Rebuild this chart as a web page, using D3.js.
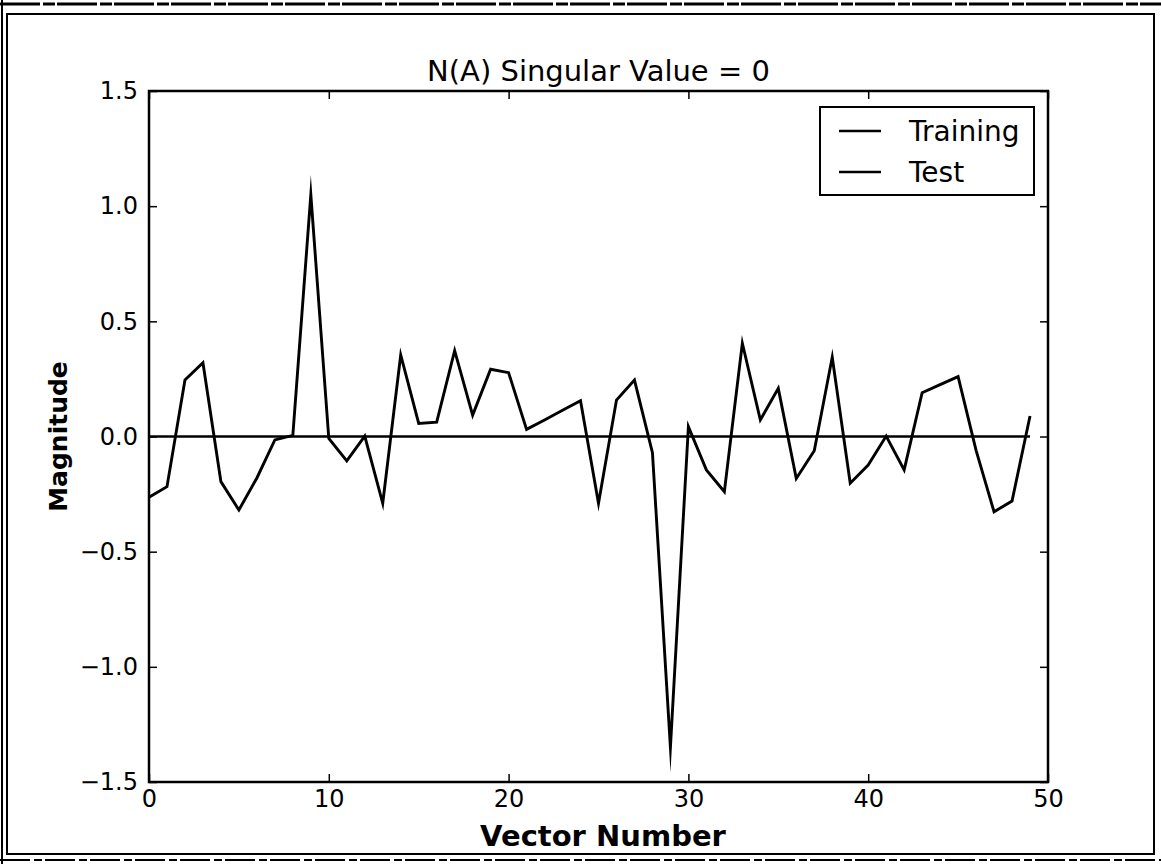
<!DOCTYPE html>
<html>
<head>
<meta charset="utf-8">
<script src="https://cdn.jsdelivr.net/npm/d3@7"></script>
<style>
  html, body { margin: 0; padding: 0; background: #ffffff; }
  svg { display: block; }
  text { font-family: "DejaVu Sans", sans-serif; fill: #000; }
</style>
</head>
<body>
<svg id="chart" width="1161" height="864"></svg>
<script>
// Vector index along the x axis
const vectorNumber = [0, 1, 2, 3, 4, 5, 6, 7, 8, 9,
                      10, 11, 12, 13, 14, 15, 16, 17, 18, 19,
                      20, 21, 22, 23, 24, 25, 26, 27, 28, 29,
                      30, 31, 32, 33, 34, 35, 36, 37, 38, 39,
                      40, 41, 42, 43, 44, 45, 46, 47, 48, 49];

// Magnitude of each component, training set
const trainingValues = [-0.264, -0.218, 0.245, 0.32, -0.196, -0.319, -0.18, -0.015, 0.005, 1.05,
                        -0.008, -0.106, 0.002, -0.29, 0.354, 0.057, 0.062, 0.373, 0.093, 0.292,
                        0.277, 0.031, 0.072, 0.114, 0.155, -0.29, 0.158, 0.245, -0.07, -1.35,
                        0.043, -0.145, -0.24, 0.405, 0.072, 0.209, -0.182, -0.062, 0.344, -0.203,
                        -0.124, 0.002, -0.145, 0.19, 0.225, 0.26, -0.06, -0.327, -0.28, 0.089];

// Magnitude of each component, test set
const testValues = [0, 0, 0, 0, 0, 0, 0, 0, 0, 0,
                    0, 0, 0, 0, 0, 0, 0, 0, 0, 0,
                    0, 0, 0, 0, 0, 0, 0, 0, 0, 0,
                    0, 0, 0, 0, 0, 0, 0, 0, 0, 0,
                    0, 0, 0, 0, 0, 0, 0, 0, 0, 0];

const xTicks = [0, 10, 20, 30, 40, 50];
const yTicks = [-1.5, -1.0, -0.5, 0.0, 0.5, 1.0, 1.5];
const seriesNames = ["Training", "Test"];

const svg = d3.select("#chart");
const W = 1161, H = 864;
const margin = { left: 149, top: 91, right: W - 1048, bottom: H - 782 };
const plotW = W - margin.left - margin.right;
const plotH = H - margin.top - margin.bottom;

// Page frame
svg.append("line").attr("x1", 0).attr("x2", W).attr("y1", 4).attr("y2", 4)
  .attr("stroke", "#000").attr("stroke-width", 3).attr("stroke-dasharray", "40,3,12,2");
svg.append("rect").attr("x", 7).attr("y", 14).attr("width", 1147).attr("height", 840)
  .attr("fill", "none").attr("stroke", "#000").attr("stroke-width", 2);
svg.append("line").attr("x1", 2).attr("x2", 2).attr("y1", 0).attr("y2", H)
  .attr("stroke", "#000").attr("stroke-width", 2);
svg.append("line").attr("x1", 0).attr("x2", W).attr("y1", 860).attr("y2", 860)
  .attr("stroke", "#000").attr("stroke-width", 2).attr("stroke-dasharray", "30,4,8,3");

const g = svg.append("g").attr("transform", `translate(${margin.left},${margin.top})`);

const x = d3.scaleLinear().domain([0, 50]).range([0, plotW]);
const y = d3.scaleLinear().domain([-1.5, 1.5]).range([plotH, 0]);

const fmtY = v => (v < 0 ? "\u2212" : "") + Math.abs(v).toFixed(1);

// Axes: inward ticks on all four sides
const tickLen = 8;
const axB = g.append("g").attr("transform", `translate(0,${plotH})`)
  .call(d3.axisBottom(x).tickValues(xTicks).tickSizeInner(-tickLen).tickSizeOuter(0).tickPadding(8).tickFormat(d3.format("d")));
const axT = g.append("g")
  .call(d3.axisTop(x).tickValues(xTicks).tickSizeInner(-tickLen).tickSizeOuter(0).tickFormat(""));
const axL = g.append("g")
  .call(d3.axisLeft(y).tickValues(yTicks).tickSizeInner(-tickLen).tickSizeOuter(0).tickPadding(11).tickFormat(fmtY));
const axR = g.append("g").attr("transform", `translate(${plotW},0)`)
  .call(d3.axisRight(y).tickValues(yTicks).tickSizeInner(-tickLen).tickSizeOuter(0).tickFormat(""));

[axB, axT, axL, axR].forEach(a => {
  a.select(".domain").remove();
  a.selectAll(".tick line").attr("stroke", "#000").attr("stroke-width", 1.5);
  a.selectAll(".tick text").attr("font-size", 24).attr("font-family", "DejaVu Sans, sans-serif").attr("fill", "#000");
});

// Series lines
const line = d3.line().x((d, i) => x(vectorNumber[i])).y(d => y(d));
g.append("path").datum(testValues).attr("d", line)
  .attr("fill", "none").attr("stroke", "#000").attr("stroke-width", 2.3);
g.append("path").datum(trainingValues).attr("d", line)
  .attr("fill", "none").attr("stroke", "#000").attr("stroke-width", 2.9)
  .attr("stroke-linejoin", "miter").attr("stroke-miterlimit", 30);

// Plot frame
g.append("rect").attr("x", 0).attr("y", 0).attr("width", plotW).attr("height", plotH)
  .attr("fill", "none").attr("stroke", "#000").attr("stroke-width", 2.5);

// Title and axis labels
svg.append("text").attr("x", margin.left + plotW / 2).attr("y", 81)
  .attr("text-anchor", "middle").attr("font-size", 29).text("N(A) Singular Value = 0");
svg.append("text").attr("x", 603).attr("y", 846)
  .attr("text-anchor", "middle").attr("font-size", 29).attr("font-weight", "bold").text("Vector Number");
svg.append("text").attr("transform", `translate(67,${margin.top + plotH / 2}) rotate(-90)`)
  .attr("text-anchor", "middle").attr("font-size", 25).attr("font-weight", "bold").text("Magnitude");

// Legend
const lg = svg.append("g").attr("transform", "translate(820,107)");
lg.append("rect").attr("x", 0).attr("y", 0).attr("width", 214).attr("height", 88)
  .attr("fill", "#fff").attr("stroke", "#000").attr("stroke-width", 2);
seriesNames.forEach((name, i) => {
  const cy = 24 + i * 41;
  lg.append("line").attr("x1", 19).attr("x2", 61).attr("y1", cy).attr("y2", cy)
    .attr("stroke", "#000").attr("stroke-width", 2.3);
  lg.append("text").attr("x", 89).attr("y", cy + 10).attr("font-size", 28).text(name);
});
</script>
</body>
</html>
